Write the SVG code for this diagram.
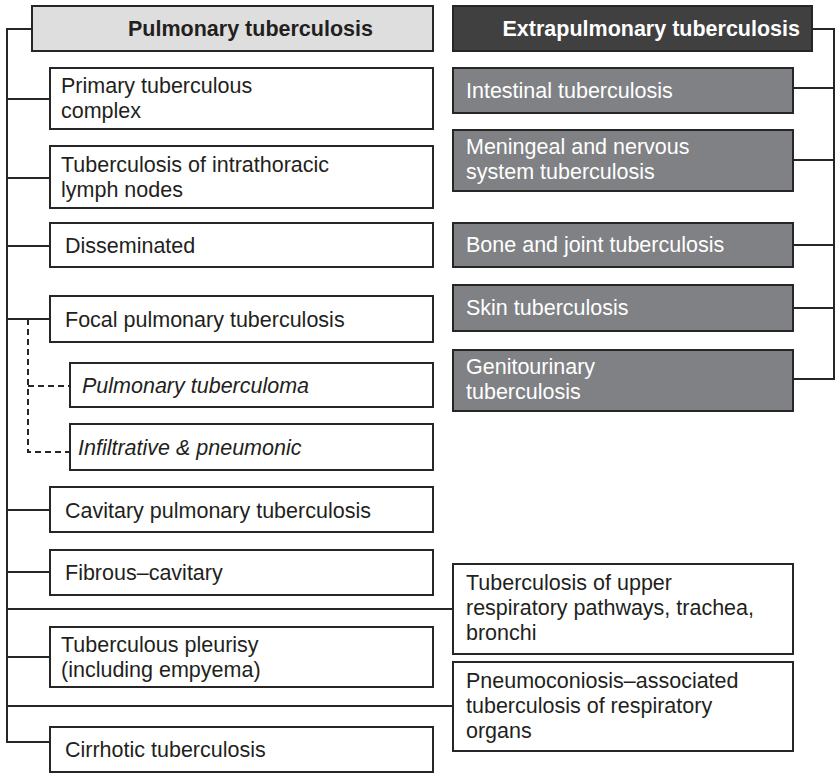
<svg xmlns="http://www.w3.org/2000/svg" width="836" height="773" viewBox="0 0 836 773">
<style>
  .box{fill:#ffffff;stroke:#262626;stroke-width:2}
  .hl{fill:#dedede;stroke:#262626;stroke-width:2}
  .hd{fill:#404040;stroke:#262626;stroke-width:2}
  .gb{fill:#808184;stroke:#262626;stroke-width:2}
  text{font-family:"Liberation Sans",Arial,sans-serif;font-size:21.5px;fill:#231f20}
  .w{fill:#ffffff}
  .b{font-weight:bold}
  .i{font-style:italic}
  .ln{fill:none;stroke:#262626;stroke-width:2}
  .dash{fill:none;stroke:#262626;stroke-width:2;stroke-dasharray:6 4}
</style>
<g id="connectors">
  <path class="ln" d="M32 29 H7 V742 H50"/>
  <path class="ln" d="M7 99 H50 M7 178 H50 M7 246 H50 M7 319 H50 M7 510 H50 M7 572 H50 M7 657 H50"/>
  <path class="ln" d="M7 609 H453 M7 706 H453"/>
  <path class="dash" d="M28 319 V452 H70 M28 386 H70"/>
  <path class="ln" d="M812 29 H834 V379 H793 M793 88 H834 M793 160 H834 M793 245 H834 M793 308 H834"/>
</g>
<g id="pulmonary">
  <rect class="hl" x="32" y="6" width="401" height="45"/>
  <text class="b" x="128" y="36">Pulmonary tuberculosis</text>
</g>
<g id="extrapulmonary">
  <rect class="hd" x="453" y="6" width="359" height="45"/>
  <text class="b w" x="800" y="36" text-anchor="end">Extrapulmonary tuberculosis</text>
</g>
<g id="primary">
  <rect class="box" x="50" y="68" width="383" height="61"/>
  <text x="61" y="93">Primary tuberculous</text>
  <text x="61" y="118">complex</text>
</g>
<g id="intrathoracic">
  <rect class="box" x="50" y="146" width="383" height="62"/>
  <text x="61" y="172">Tuberculosis of intrathoracic</text>
  <text x="61" y="197">lymph nodes</text>
</g>
<g id="disseminated">
  <rect class="box" x="50" y="223" width="383" height="44"/>
  <text x="65" y="253">Disseminated</text>
</g>
<g id="focal">
  <rect class="box" x="50" y="296" width="383" height="46"/>
  <text x="65" y="327">Focal pulmonary tuberculosis</text>
</g>
<g id="tuberculoma">
  <rect class="box" x="70" y="363" width="363" height="44"/>
  <text class="i" x="82" y="393">Pulmonary tuberculoma</text>
</g>
<g id="infiltrative">
  <rect class="box" x="70" y="424" width="363" height="46"/>
  <text class="i" x="78" y="455">Infiltrative &amp; pneumonic</text>
</g>
<g id="cavitary">
  <rect class="box" x="50" y="487" width="383" height="45"/>
  <text x="65" y="518">Cavitary pulmonary tuberculosis</text>
</g>
<g id="fibrous">
  <rect class="box" x="50" y="550" width="383" height="45"/>
  <text x="65" y="580">Fibrous–cavitary</text>
</g>
<g id="pleurisy">
  <rect class="box" x="50" y="627" width="383" height="60"/>
  <text x="61" y="652">Tuberculous pleurisy</text>
  <text x="61" y="677">(including empyema)</text>
</g>
<g id="cirrhotic">
  <rect class="box" x="50" y="727" width="383" height="45"/>
  <text x="65" y="757">Cirrhotic tuberculosis</text>
</g>
<g id="intestinal">
  <rect class="gb" x="453" y="68" width="340" height="45"/>
  <text class="w" x="466" y="98">Intestinal tuberculosis</text>
</g>
<g id="meningeal">
  <rect class="gb" x="453" y="130" width="340" height="61"/>
  <text class="w" x="466" y="154">Meningeal and nervous</text>
  <text class="w" x="466" y="179">system tuberculosis</text>
</g>
<g id="bone">
  <rect class="gb" x="453" y="223" width="340" height="44"/>
  <text class="w" x="466" y="252">Bone and joint tuberculosis</text>
</g>
<g id="skin">
  <rect class="gb" x="453" y="285" width="340" height="46"/>
  <text class="w" x="466" y="315">Skin tuberculosis</text>
</g>
<g id="genitourinary">
  <rect class="gb" x="453" y="350" width="340" height="61"/>
  <text class="w" x="466" y="374">Genitourinary</text>
  <text class="w" x="466" y="399">tuberculosis</text>
</g>
<g id="upper-respiratory">
  <rect class="box" x="453" y="564" width="340" height="90"/>
  <text x="466" y="590">Tuberculosis of upper</text>
  <text x="466" y="615">respiratory pathways, trachea,</text>
  <text x="466" y="640">bronchi</text>
</g>
<g id="pneumoconiosis">
  <rect class="box" x="453" y="662" width="340" height="89"/>
  <text x="466" y="688">Pneumoconiosis–associated</text>
  <text x="466" y="713">tuberculosis of respiratory</text>
  <text x="466" y="738">organs</text>
</g>
</svg>
